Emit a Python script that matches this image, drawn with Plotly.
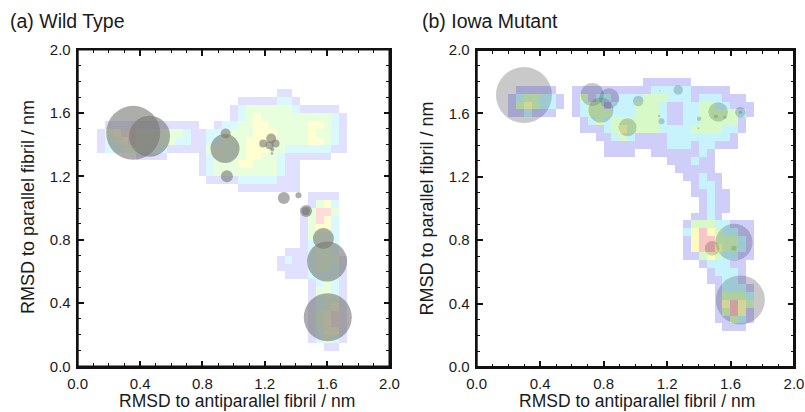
import plotly.graph_objects as go

# ---------------- data ----------------
# Heatmap levels (1 = lowest ... 5 = highest, '.' = empty).
# Each entry: row index j -> (first column index k, levels string)
# Panel (a): x centre = 0.05*k, y centre = 0.025 + 0.05*j
wt_rows = {
    34: (26, "11"),
    33: (21, "11111221"),
    32: (20, "12333333211111"),
    31: (20, "123433333333321"),
    30: (4, "111111111111..12233443333344321"),
    29: (3, "13455333333211223333444333343321"),
    28: (3, "12345333332211223334444333344321"),
    27: (3, "12233322211111333334443322222211"),
    26: (8, "1111....12333344332111111"),
    25: (16, "1233344333211"),
    24: (16, "1233333333211"),
    23: (17, "111122222111"),
    22: (21, "11111111"),
    21: (30, "1111"),
    20: (30, "1342"),
    19: (29, "13553"),
    18: (29, "13542"),
    17: (29, "13442"),
    16: (29, "13332"),
    15: (29, "12332"),
    14: (27, "1112332"),
    13: (26, "121123331"),
    12: (26, "111123321"),
    11: (27, "11122221"),
    10: (30, "12321"),
    9: (30, "13321"),
    8: (30, "12331"),
    7: (30, "12341"),
    6: (30, "13451"),
    5: (30, "13451"),
    4: (30, "12441"),
    3: (30, "12321"),
    2: (32, "11"),
}
# Panel (b): x centre = 0.025 + 0.05*k, y centre = 0.05*j
io_rows = {
    36: (21, "111111"),
    35: (5, "11111..11111111112222211111"),
    34: (4, "1233221.1312212223332221222111"),
    33: (4, "1343221.12331222333211223322111"),
    32: (4, "112111..12333222333211223333321"),
    31: (13, "123233333321122333331"),
    30: (13, "111234333322223333221"),
    29: (15, "112321111222222221"),
    28: (16, "11111111222122111"),
    27: (16, "1111..11111121"),
    26: (24, "111211"),
    25: (25, "11111"),
    24: (26, "11211"),
    23: (27, "1221"),
    22: (27, "11211"),
    21: (28, "1211"),
    20: (28, "1211"),
    19: (27, "1121"),
    18: (26, "133322111"),
    17: (26, "245432211"),
    16: (26, "145533321"),
    15: (26, "145543321"),
    14: (26, "113432211"),
    13: (28, "122211"),
    12: (29, "12221"),
    11: (29, "11221"),
    10: (30, "12221"),
    9: (30, "13332"),
    8: (30, "14543"),
    7: (30, "13541"),
    6: (30, "11321"),
    5: (31, "111"),
}

# Bubbles (centre in nm, diameter)
wt_x = [0.356, 0.461, 0.945, 0.949, 0.957, 1.190, 1.241, 1.269, 1.231, 1.248, 1.246,
        1.322, 1.416, 1.465, 1.465, 1.576, 1.600, 1.604]
wt_y = [1.474, 1.453, 1.375, 1.470, 1.200, 1.407, 1.438, 1.407, 1.396, 1.369, 1.344,
        1.063, 1.080, 0.981, 0.981, 0.807, 0.663, 0.311]
wt_d = [54, 41, 29, 10, 12, 8, 10, 8, 8, 4, 2.5, 12, 6, 12, 8, 21, 40, 48]

io_x = [0.298, 0.728, 0.835, 0.783, 0.951, 1.018, 1.270, 1.154, 1.150, 1.165, 1.402,
        1.398, 1.522, 1.507, 1.564, 1.662, 1.662, 1.484, 1.622, 1.622, 1.662]
io_y = [1.716, 1.720, 1.695, 1.621, 1.512, 1.678, 1.748, 1.743, 1.584, 1.550, 1.567,
        1.506, 1.609, 1.580, 1.575, 1.607, 1.607, 0.749, 0.787, 0.750, 0.423]
io_d = [56, 23, 20, 25, 18, 10.5, 9.5, 1.5, 2.5, 6, 4.5, 2, 19.5, 4, 3.5, 10.5, 3.5,
        14.5, 37, 5, 49]

tick_vals = [0.0, 0.4, 0.8, 1.2, 1.6, 2.0]
tick_text = ["0.0", "0.4", "0.8", "1.2", "1.6", "2.0"]
panel_titles = ["(a) Wild Type", "(b) Iowa Mutant"]
x_title = "RMSD to antiparallel fibril / nm"
y_title = "RMSD to parallel fibril / nm"

NX, NY = 41, 41


def build_grid(rows):
    z = [[None] * NX for _ in range(NY)]
    for j, (k0, s) in rows.items():
        for i, ch in enumerate(s):
            if ch != ".":
                z[j][k0 + i] = int(ch)
    return z


cscale_a = [
    [0.00, "rgba(70,70,255,0.16)"],
    [0.25, "rgba(0,215,255,0.15)"],
    [0.50, "rgba(120,255,60,0.18)"],
    [0.75, "rgba(255,255,50,0.22)"],
    [1.00, "rgba(255,80,80,0.20)"],
]
cscale_b = [
    [0.00, "rgba(50,50,230,0.24)"],
    [0.25, "rgba(0,200,240,0.22)"],
    [0.50, "rgba(90,230,30,0.25)"],
    [0.75, "rgba(240,240,20,0.28)"],
    [1.00, "rgba(230,50,50,0.28)"],
]

FONT = "Liberation Sans, Arial, sans-serif"
INK = "#111111"
TXT = "#1a1a1a"
fig = go.Figure()

# Panel (a): heatmap below bubbles
fig.add_trace(go.Heatmap(z=build_grid(wt_rows), x0=0.0, dx=0.05, y0=0.025, dy=0.05,
                         colorscale=cscale_a, zmin=1, zmax=5, showscale=False,
                         zsmooth=False, hoverongaps=False, xaxis="x", yaxis="y"))
fig.add_trace(go.Scatter(x=wt_x, y=wt_y, mode="markers", xaxis="x", yaxis="y",
                         marker=dict(size=wt_d, sizemode="diameter",
                                     color="rgba(118,118,114,0.85)", line=dict(width=0)),
                         showlegend=False))

# Panel (b): bubbles below heatmap (heatmap on an overlaid axis pair)
fig.add_trace(go.Scatter(x=io_x, y=io_y, mode="markers", xaxis="x2", yaxis="y2",
                         marker=dict(size=io_d, sizemode="diameter",
                                     color="rgba(100,100,100,0.5)", line=dict(width=0)),
                         showlegend=False))
fig.add_trace(go.Heatmap(z=build_grid(io_rows), x0=0.025, dx=0.05, y0=0.0, dy=0.05,
                         colorscale=cscale_b, zmin=1, zmax=5, showscale=False,
                         zsmooth=False, hoverongaps=False, xaxis="x3", yaxis="y3"))

# full-window figure (page body margin removed after plotting)
W, H = 805, 412


def px(v):
    return v / W


def py(v):
    return 1 - v / H


axis_common = dict(range=[0, 2], tickmode="array", tickvals=tick_vals, ticktext=tick_text,
                   ticks="inside", ticklen=6, tickwidth=1.6, tickcolor=INK,
                   minor=dict(dtick=0.1, ticks="inside", ticklen=3.5, tickwidth=1.3,
                              tickcolor=INK, showgrid=False),
                   showline=True, linecolor=INK, linewidth=2, mirror="ticks",
                   showgrid=False, zeroline=False, automargin=False,
                   ticklabeloverflow="allow",
                   tickfont=dict(family=FONT, size=15, color=TXT))

fig.update_layout(
    width=W, height=H, margin=dict(l=0, r=0, t=0, b=0, pad=0, autoexpand=False),
    paper_bgcolor="white", plot_bgcolor="white", showlegend=False,
    xaxis=dict(domain=[px(77.7), px(389.5)], anchor="y", ticklabelstandoff=2, **axis_common),
    yaxis=dict(domain=[py(366.5), py(49.5)], anchor="x", ticklabelstandoff=2, **axis_common),
    xaxis2=dict(domain=[px(476.7), px(794.0)], anchor="y2", ticklabelstandoff=2, **axis_common),
    yaxis2=dict(domain=[py(367), py(50)], anchor="x2", ticklabelstandoff=2, **axis_common),
    xaxis3=dict(overlaying="x2", anchor="y3", range=[0, 2], visible=False),
    yaxis3=dict(overlaying="y2", anchor="x3", range=[0, 2], visible=False),
)

# panel frames
shapes = []
for xr, yr in [("x domain", "y domain"), ("x2 domain", "y2 domain")]:
    shapes.append(dict(type="rect", xref=xr, yref=yr, x0=0, x1=1, y0=0, y1=1,
                       line=dict(color=INK, width=2), fillcolor="rgba(0,0,0,0)",
                       layer="above"))

ann = []
for cx, ty in [(8, panel_titles[0]), (420, panel_titles[1])]:
    ann.append(dict(text=ty, x=px(cx), y=py(21), xref="paper", yref="paper",
                    xanchor="left", yanchor="middle", showarrow=False,
                    font=dict(family=FONT, size=19.5, color=TXT)))
for cx in [(77.7 + 389.5) / 2 + 3, (476.7 + 794.3) / 2 + 1]:
    ann.append(dict(text=x_title, x=px(cx), y=0, xref="paper", yref="paper",
                    xanchor="center", yanchor="bottom", showarrow=False, borderpad=0,
                    font=dict(family=FONT, size=17.5, color=TXT)))
for cx, cy in [(27.5, 207.5), (426, 208.5)]:
    ann.append(dict(text=y_title, x=px(cx), y=py(cy), xref="paper", yref="paper",
                    xanchor="center", yanchor="middle", textangle=-90, showarrow=False,
                    font=dict(family=FONT, size=18, color=TXT)))
fig.update_layout(annotations=ann, shapes=shapes)

fig.write_html("out.html",
               config={"displayModeBar": False},
               post_script="document.body.style.margin='0';"
                           "document.body.style.overflow='hidden';")
